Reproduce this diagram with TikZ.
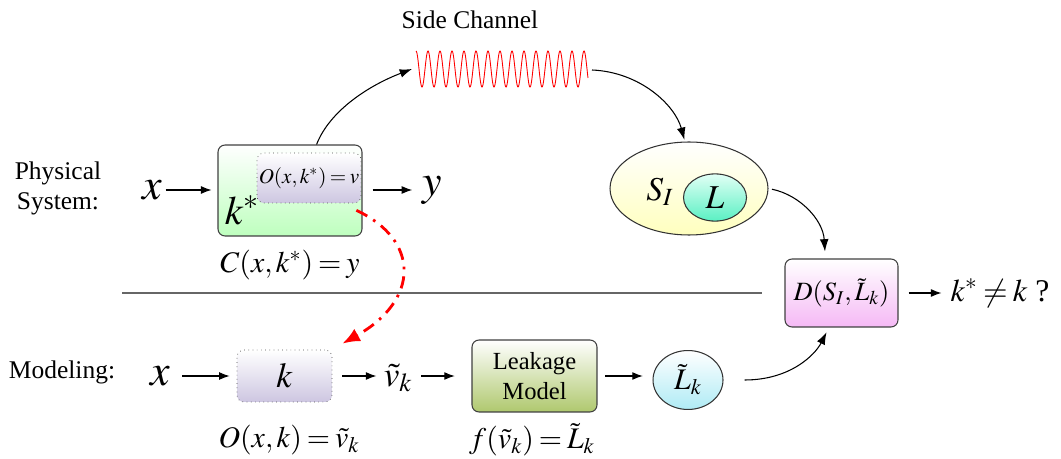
\documentclass[tikz,border=0pt]{standalone}
\usepackage{mathptmx}
\usepackage{fontspec}
\setmainfont{Liberation Serif}
\usetikzlibrary{arrows.meta,shapes.geometric,calc}
\definecolor{physgreen}{RGB}{190,255,190}
\definecolor{opgray}{RGB}{205,198,225}
\definecolor{sigyellow}{RGB}{255,255,190}
\definecolor{leakaqua}{RGB}{90,240,195}
\definecolor{leaktop}{RGB}{225,255,245}
\definecolor{decpink}{RGB}{245,185,245}
\definecolor{modelolive}{RGB}{175,200,110}
\definecolor{estcyan}{RGB}{175,235,245}
\thickmuskip=3mu plus 1mu
\medmuskip=2mu
\tikzset{
  flow/.style={-{Latex[length=6pt,width=4.5pt]}, line width=0.6pt},
  curvearrow/.style={-{Latex[length=7pt,width=5pt]}, line width=0.6pt},
  roundbox/.style={draw=black!75, rounded corners=4pt, line width=0.6pt},
  opbox/.style={draw=black!70, dotted, rounded corners=4pt, top color=white, bottom color=opgray},
  bigmath/.style={font=\fontsize{25}{25}\selectfont, inner sep=1pt},
  eqn/.style={font=\fontsize{17}{17}\selectfont},
  lbl/.style={font=\fontsize{14.5}{17}\selectfont, align=center},
}

\begin{document}
\begin{tikzpicture}[x=0.02cm, y=-0.02cm]
\useasboundingbox (0,0) rectangle (1061,459);
% physical system
\node[lbl] (phys) at (58,188) {Physical\\System:};
\node[bigmath] (xin) at (152,190) {$x$};
\node[roundbox, top color=white, bottom color=physgreen, minimum width=2.88cm, minimum height=1.82cm] (chip) at (290,190.5) {};
\node[opbox, minimum width=2.04cm, minimum height=1cm, inner sep=1pt, font=\fontsize{12}{12}\selectfont] (op) at (309,178) {$O(x,k^*)=v$};
\node[font=\fontsize{23}{23}\selectfont] (kstar) at (242,210) {$k^*$};
\node[bigmath] (yout) at (432,190) {$y$};
\node[eqn] (ceq) at (290,265) {$C(x,k^*)=y$};
\draw[flow, shorten <=1pt, shorten >=3.4pt] (xin.east) -- (xin.east -| chip.west);
\draw[flow, shorten <=5.7pt, shorten >=4.5pt] (chip.east |- yout.west) -- (yout.west);
% side channel
\node[lbl] (sc) at (470,20) {Side Channel};
\draw[red, line width=0.5pt, domain=0:172, samples=400] plot ({416+\x},{69-18*cos(30*\x)});
\coordinate (wl) at (412,69);
\coordinate (wr) at (592,70);
\draw[curvearrow] (chip.60) .. controls (330,110) and (370,85) .. (wl);
\node[ellipse, draw=black!80, line width=0.6pt, top color=white, bottom color=sigyellow, minimum width=3.16cm, minimum height=1.86cm] (si) at (689,188.5) {};
\node[ellipse, draw=black!80, line width=0.6pt, top color=leaktop, bottom color=leakaqua, minimum width=1.26cm, minimum height=0.8cm, font=\fontsize{19}{19}\selectfont] (leak) at (715,197.5) {$L$};
\node[font=\fontsize{19}{19}\selectfont] (silbl) at (660,192) {$S_I$};
\draw[curvearrow, shorten >=1pt] (wr) .. controls (640,72) and (675,105) .. (si.95);
% distinguisher
\node[roundbox, top color=white, bottom color=decpink, minimum width=2.26cm, minimum height=1.36cm, font=\fontsize{15}{15}\selectfont] (dec) at (841.5,293) {$D(S_I,\tilde{L}_k)$};
\node[font=\fontsize{18}{18}\selectfont, inner sep=1pt] (verdict) at (1000,293) {$k^*\neq k$ ?};
\draw[flow, shorten <=5.7pt, shorten >=4pt] (dec.east) -- (dec.east -| verdict.west);
\draw[curvearrow, shorten <=2pt, shorten >=4pt] (si.east) .. controls (800,195) and (823,220) .. (dec.115);
\draw[black!60, line width=0.6pt] (122,293) -- (762,293);
% modeling
\node[lbl] (model) at (62,372) {Modeling:};
\node[bigmath] (xm) at (160,376) {$x$};
\node[opbox, minimum width=1.9cm, minimum height=1.04cm, font=\fontsize{20}{20}\selectfont] (kbox) at (284.5,376) {$k$};
\node[font=\fontsize{20}{20}\selectfont, inner sep=1pt] (vt) at (398,378) {$\tilde{v}_k$};
\node[roundbox, lbl, top color=white, bottom color=modelolive, minimum width=2.5cm, minimum height=1.44cm, font=\fontsize{14}{17}\selectfont] (lmodel) at (534.5,376) {Leakage\\Model};
\node[ellipse, draw=black!80, line width=0.6pt, top color=white, bottom color=estcyan, minimum width=1.4cm, minimum height=0.96cm, font=\fontsize{17}{17}\selectfont] (lest) at (688,380) {$\tilde{L}_k$};
\draw[flow, shorten <=6pt, shorten >=4pt] (xm.east) -- (xm.east -| kbox.west);
\draw[flow, shorten <=5.5pt, shorten >=3pt] (kbox.east) -- (kbox.east -| vt.west);
\draw[flow, shorten <=4pt, shorten >=9.5pt] (kbox.east -| vt.east) -- (kbox.east -| lmodel.west);
\draw[flow, shorten <=4.5pt, shorten >=5.5pt] (kbox.east -| lmodel.east) -- (kbox.east -| lest.west);
\draw[curvearrow, shorten <=12pt, shorten >=3pt] (lest.east) .. controls (790,380) and (815,355) .. (dec.250);
\node[eqn] (oeq) at (289,440) {$O(x,k)=\tilde{v}_k$};
\node[eqn] (feq) at (532,440) {$f(\tilde{v}_k)=\tilde{L}_k$};
% hypothesis link
\draw[red, line width=1.6pt, dash pattern=on 7pt off 4pt on 1.5pt off 4pt, -{Latex[length=10pt,width=8pt]}] ($(op.south east)+(-5,7)$) .. controls (420,240) and (420,300) .. ($(kbox.north east)+(10,-6)$);
\end{tikzpicture}
\end{document}
